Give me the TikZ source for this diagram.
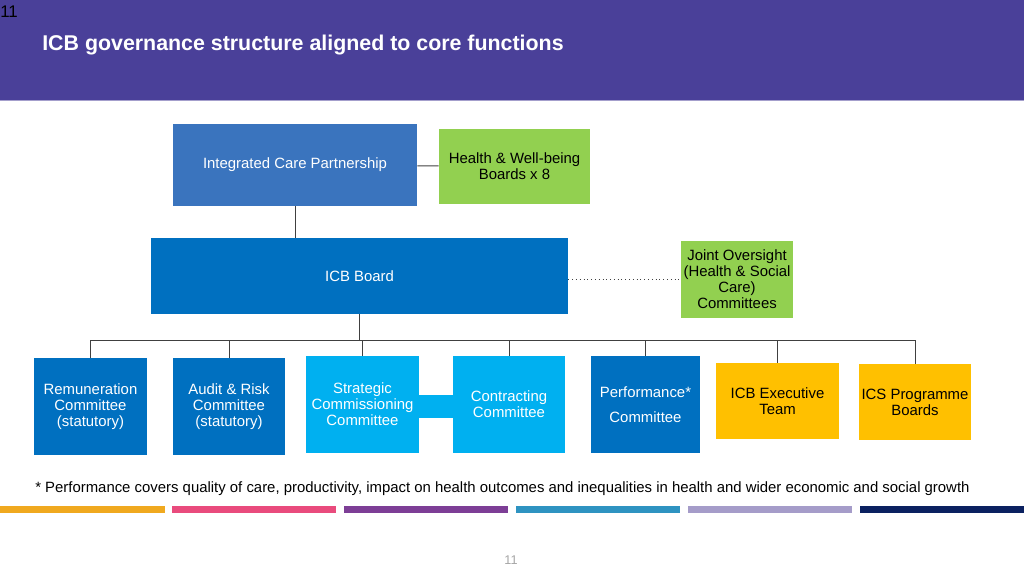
\documentclass[tikz,border=0pt]{standalone}
\usepackage{fontspec}
\setmainfont{Liberation Sans}
\usetikzlibrary{positioning}

\definecolor{headpurple}{HTML}{4A4099}
\definecolor{icpblue}{HTML}{3A74BE}
\definecolor{icbblue}{HTML}{0070C0}
\definecolor{skyblue}{HTML}{00B0F0}
\definecolor{hwbgreen}{HTML}{92D050}
\definecolor{execyellow}{HTML}{FFC000}
\definecolor{linegray}{HTML}{404040}
\definecolor{barorange}{HTML}{F0A91F}
\definecolor{barpink}{HTML}{E94B7D}
\definecolor{barpurple}{HTML}{7D3E96}
\definecolor{barteal}{HTML}{2E93C1}
\definecolor{barlavender}{HTML}{A59CC9}
\definecolor{barnavy}{HTML}{0B2160}

\begin{document}
\begin{tikzpicture}[x=0.025cm,y=-0.025cm,
    box/.style={inner sep=2pt,align=center,font=\fontsize{10.6}{11.4}\selectfont},
    darkbox/.style={box,fill=icbblue,text=white},
    lightbox/.style={box,fill=skyblue,text=white},
    greenbox/.style={box,fill=hwbgreen,text=black},
    yellowbox/.style={box,fill=execyellow,text=black},
    link/.style={draw=linegray,line width=0.7pt},
    bar/.style={line width=0.175cm}]
            \useasboundingbox (0,0) rectangle (1024,576);
            % header
            \fill[headpurple] (0,0) rectangle (1024,100);
            \draw[color=headpurple!50!white,line width=0.5pt] (0,100) -- (1024,100);
            \node[anchor=north west,inner sep=0pt,font=\fontsize{12}{14}\selectfont] (pagetop) at (0,5.5) {11};
            \node[anchor=west,inner sep=0pt,text=white,font=\fontsize{15.2}{17}\selectfont\bfseries] (title) at (42,45) {ICB governance structure aligned to core functions};
            % top level
            \node[box,fill=icpblue,text=white,minimum width=6.1cm,minimum height=2.05cm] (icp) at (295,165) {Integrated Care Partnership};
            \node[greenbox,minimum width=3.775cm,minimum height=1.875cm] (hwb) at (514.5,166.5) {Health \& Well-being\\Boards x 8};
            \node[darkbox,minimum width=10.425cm,minimum height=1.9cm] (icb) at (359.5,276) {ICB Board};
            \node[greenbox,minimum width=2.8cm,minimum height=1.925cm] (joint) at (737,279.5) {Joint Oversight\\(Health \& Social\\Care)\\Committees};
            \draw[link] (icp) -- (hwb);
            \draw[link] (icp.south) -- (icp.south |- icb.north);
            \draw[linegray,dotted,line width=0.7pt] (icb.east |- joint.west) -- (joint.west);
            % committees
            \draw[skyblue,line width=0.575cm] (362.5,406.5) -- (509,406.5);
            \node[darkbox,minimum width=2.825cm,minimum height=2.425cm] (rem) at (90.5,406.5) {Remuneration\\Committee\\(statutory)};
            \node[darkbox,minimum width=2.8cm,minimum height=2.425cm] (audit) at (229,406.5) {Audit \& Risk\\Committee\\(statutory)};
            \node[lightbox,minimum width=2.825cm,minimum height=2.425cm] (strat) at (362.5,404.5) {Strategic\\Commissioning\\Committee};
            \node[lightbox,minimum width=2.8cm,minimum height=2.425cm] (contr) at (509,404.5) {Contracting\\Committee};
            \node[darkbox,minimum width=2.725cm,minimum height=2.425cm] (perf) at (645.5,404.5) {Performance*\\[6pt]Committee};
            \node[yellowbox,minimum width=3.075cm,minimum height=1.9cm] (exec) at (777.5,401) {ICB Executive\\Team};
            \node[yellowbox,minimum width=2.8cm,minimum height=1.9cm] (ics) at (915,402) {ICS Programme\\Boards};
            % bus
            \coordinate (busL) at (90,340);
            \coordinate (busR) at (915,340);
            \draw[link] (busL) -- (busR);
            \draw[link] (icb.south) -- (icb.south |- busL);
            \foreach \n in {rem,audit,strat,contr,perf,exec,ics}
                \draw[link] (\n.north) -- (\n.north |- busL);
            % footnote
            \node[anchor=west,inner sep=0pt,font=\fontsize{10.6}{12}\selectfont] (note) at (35,489) {* Performance covers quality of care, productivity, impact on health outcomes and inequalities in health and wider economic and social growth};
            % colour bars
            \draw[bar,barorange] (0,509.5) -- (165,509.5);
            \draw[bar,barpink] (172,509.5) -- (336,509.5);
            \draw[bar,barpurple] (344,509.5) -- (508,509.5);
            \draw[bar,barteal] (516,509.5) -- (680,509.5);
            \draw[bar,barlavender] (688,509.5) -- (852,509.5);
            \draw[bar,barnavy] (860,509.5) -- (1024,509.5);
            \node[text=gray!70,font=\fontsize{9}{10}\selectfont] (pagenum) at (511,560) {11};
        \end{tikzpicture}
\end{document}
